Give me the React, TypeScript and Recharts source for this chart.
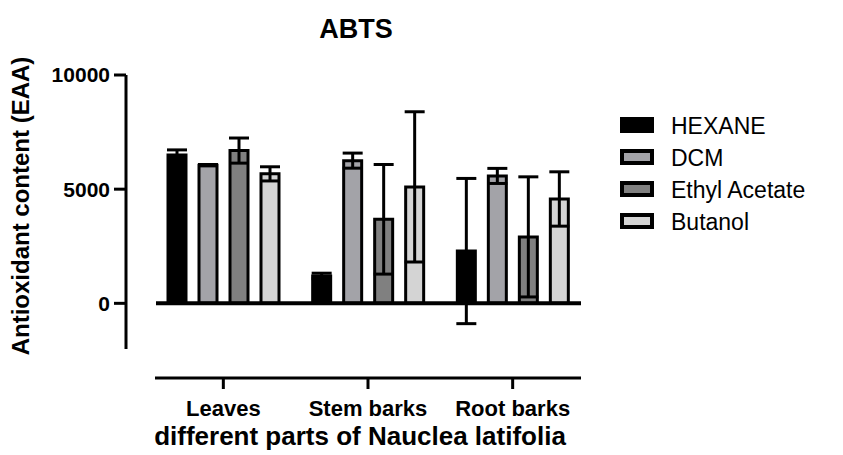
import React from 'react';
import { BarChart, Bar, XAxis, YAxis, ErrorBar, ReferenceLine } from 'recharts';

const categories = ['Leaves', 'Stem barks', 'Root barks'];
const hexane = [6500, 1200, 2290];
const hexaneErr = [220, 120, 3180];
const dcm = [6050, 6250, 5580];
const dcmErr = [30, 330, 330];
const ethyl = [6690, 3680, 2910];
const ethylErr = [550, 2400, 2630];
const butanol = [5670, 5100, 4570];
const butanolErr = [310, 3290, 1190];
const yTicks = [0, 5000, 10000];
const yDomain = [-2000, 10000];
const xAxisLineValue = -3270;

const series = [
  { key: 'hexane', name: 'HEXANE', color: '#000000' },
  { key: 'dcm', name: 'DCM', color: '#a3a3a8' },
  { key: 'ethyl', name: 'Ethyl Acetate', color: '#808080' },
  { key: 'butanol', name: 'Butanol', color: '#d4d4d4' },
];

const data = categories.map((c, i) => ({
  name: c,
  hexane: hexane[i], hexaneErr: hexaneErr[i],
  dcm: dcm[i], dcmErr: dcmErr[i],
  ethyl: ethyl[i], ethylErr: ethylErr[i],
  butanol: butanol[i], butanolErr: butanolErr[i],
}));

const FONT = '"Liberation Sans", Arial, Helvetica, sans-serif';

const XTick = (p: any) => (
  <g>
    <line x1={p.x} x2={p.x} y1={p.y + 29} y2={p.y + 40} stroke="#000" strokeWidth={3} />
    <text x={p.x} y={p.y + 67} textAnchor="middle" fontWeight="bold" fontSize={22} fill="#000" fontFamily={FONT}>
      {p.payload.value}
    </text>
  </g>
);

const LegendBox = () => (
  <div style={{ position: 'absolute', left: 620, top: 110, fontFamily: FONT }}>
    {series.map((s) => (
      <div key={s.key} style={{ display: 'flex', alignItems: 'center', height: 32 }}>
        <svg width={35} height={18} style={{ marginRight: 16 }}>
          <rect x={2} y={2} width={30} height={12} fill={s.color} stroke="#000" strokeWidth={4} />
        </svg>
        <span style={{ fontSize: 23, color: '#000' }}>{s.name}</span>
      </div>
    ))}
  </div>
);

export default function App() {
  return (
    <div style={{ position: 'absolute', left: 0, top: 0, width: 843, height: 455, background: '#fff', fontFamily: FONT }}>
      <div style={{ position: 'absolute', left: 256, top: 14, width: 200, textAlign: 'center', fontSize: 27, fontWeight: 'bold', color: '#000' }}>
        ABTS
      </div>
      <BarChart
        width={843}
        height={455}
        data={data}
        margin={{ top: 75, right: 258, bottom: 0, left: 0 }}
        barSize={18}
        barGap={13}
      >
        <XAxis
          dataKey="name"
          height={106}
          padding={{ left: 25, right: 0 }}
          axisLine={false}
          tickLine={false}
          tickSize={0}
          tickMargin={0}
          tick={<XTick />}
          interval={0}
          label={(props: any) => {
            const vb = props.viewBox;
            return (
              <text x={vb.x + 17 + (vb.width - 25) / 2} y={vb.y + 96} textAnchor="middle" fontWeight="bold" fontSize={26} fill="#000" fontFamily={FONT}>
                different parts of Nauclea latifolia
              </text>
            );
          }}
        />
        <YAxis
          width={126}
          domain={yDomain}
          ticks={yTicks}
          allowDataOverflow
          axisLine={{ stroke: '#000', strokeWidth: 3 }}
          tickLine={{ stroke: '#000', strokeWidth: 3 }}
          tickSize={12}
          tickMargin={4}
          tick={{ fill: '#000', fontSize: 21, fontWeight: 'bold', fontFamily: FONT }}
          label={(props: any) => {
            const vb = props.viewBox;
            const cx = 20;
            const cy = vb.y + vb.height / 2 - 6;
            return (
              <text x={cx} y={cy} transform={`rotate(-90, ${cx}, ${cy})`} textAnchor="middle" dominantBaseline="central" fontWeight="bold" fontSize={24} fill="#000" fontFamily={FONT}>
                Antioxidant content (EAA)
              </text>
            );
          }}
        />
        {series.map((s) => (
          <Bar key={s.key} dataKey={s.key} name={s.name} fill={s.color} stroke="#000" strokeWidth={3} isAnimationActive={false}>
            <ErrorBar dataKey={s.key + 'Err'} width={10} stroke="#000" strokeWidth={3} />
          </Bar>
        ))}
        <ReferenceLine
          y={0}
          ifOverflow="visible"
          shape={(p: any) => <line x1={p.x1 + 30} y1={p.y1} x2={p.x2 - 4} y2={p.y2} stroke="#000" strokeWidth={4} />}
        />
        <ReferenceLine
          y={xAxisLineValue}
          ifOverflow="visible"
          shape={(p: any) => <line x1={p.x1 + 29} y1={p.y1} x2={p.x2 - 4} y2={p.y2} stroke="#000" strokeWidth={3} />}
        />
      </BarChart>
      <LegendBox />
    </div>
  );
}
